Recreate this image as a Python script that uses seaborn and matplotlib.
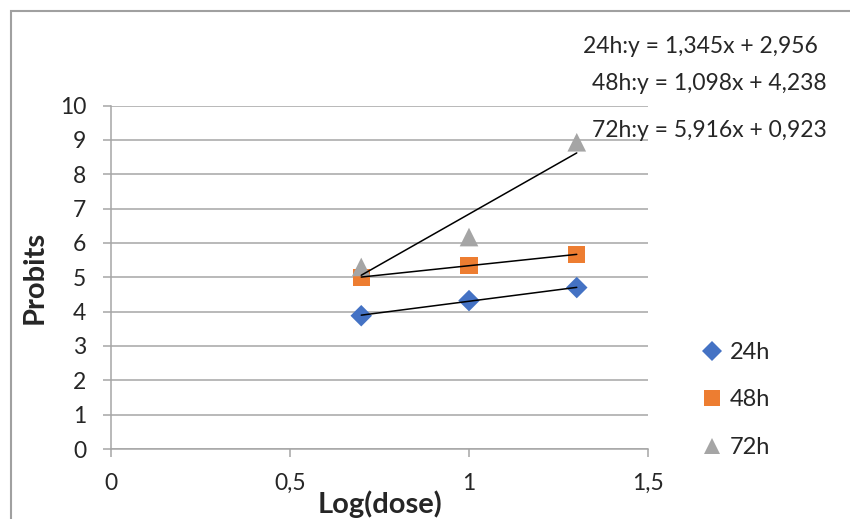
import matplotlib
matplotlib.use("Agg")
import matplotlib.pyplot as plt
import seaborn as sns
import pandas as pd
import numpy as np
from matplotlib.patches import Rectangle
from matplotlib.lines import Line2D

# ---- data ----
log_dose = [0.699, 1.0, 1.301]
probit_24h = [3.88, 4.32, 4.70]
probit_48h = [5.00, 5.33, 5.67]
probit_72h = [5.30, 6.17, 8.93]
series = ["24h", "48h", "72h"]
slopes = [1.345, 1.098, 5.916]
intercepts = [2.956, 4.238, 0.923]
equations = ["24h:y = 1,345x + 2,956", "48h:y = 1,098x + 4,238", "72h:y = 5,916x + 0,923"]
x_ticks = [0, 0.5, 1, 1.5]
x_ticklabels = ["0", "0,5", "1", "1,5"]
y_ticks = list(range(0, 11))

colors = {"24h": "#4472C4", "48h": "#ED7D31", "72h": "#A5A5A5"}
markers = {"24h": "D", "48h": "s", "72h": "^"}
sizes = {"24h": 120, "48h": 150, "72h": 180}
leg_sizes = {"24h": 10, "48h": 11.5, "72h": 12}

df = pd.DataFrame({
    "x": log_dose * 3,
    "y": probit_24h + probit_48h + probit_72h,
    "s": [s for s in series for _ in log_dose],
})

sns.set_style("white")
plt.rcParams["font.family"] = ["Lato", "DejaVu Sans"]

W, H = 850, 519
fig = plt.figure(figsize=(W / 100, H / 100), dpi=100)
L, R, T, B = 111, 648, 105.5, 449
ax = fig.add_axes([L / W, 1 - B / H, (R - L) / W, (B - T) / H])

# border of chart area
fig.patches.append(Rectangle((11 / W, -0.02), 1.2, 1 - 10.5 / H + 0.02, transform=fig.transFigure,
                             fill=False, edgecolor="#A0A0A0", linewidth=1.5))

for s in series:
    sub = df[df.s == s]
    sns.scatterplot(data=sub, x="x", y="y", ax=ax, color=colors[s], marker=markers[s],
                    s=sizes[s], edgecolor="none", linewidth=0, zorder=3, legend=False)

# trend lines
xs = np.array([log_dose[0], log_dose[-1]])
for m, b in zip(slopes, intercepts):
    ax.plot(xs, m * xs + b, color="black", linewidth=1.1, zorder=4)

ax.set_xlim(0, 1.5)
ax.set_ylim(0, 10)
ax.set_xticks(x_ticks)
ax.set_xticklabels(x_ticklabels)
ax.set_yticks(y_ticks)
ax.yaxis.grid(True, color="#A6A6A6", linewidth=1.1)
ax.xaxis.grid(False)
for side in ["top", "right"]:
    ax.spines[side].set_visible(False)
for side in ["left", "bottom"]:
    ax.spines[side].set_color("#A6A6A6")
    ax.spines[side].set_linewidth(1.1)
ax.tick_params(axis="x", direction="out", length=6, width=1.1, color="#A6A6A6",
               labelsize=16.5, pad=11, bottom=True)
ax.tick_params(axis="y", direction="out", length=6, width=1.1, color="#A6A6A6",
               labelsize=16.5, pad=12, left=True)
ax.set_xlabel("")
ax.set_ylabel("")

fig.text(380 / W, 1 - 513 / H, "Log(dose)", ha="center", va="baseline",
         fontsize=21, fontweight="bold")
fig.text(35 / W, 1 - 277 / H, "Probits", ha="center", va="center", rotation=90,
         fontsize=21, fontweight="bold")

# equations
eq_pos = [(818, 53), (827, 90), (827, 137)]
for txt, (px, py) in zip(equations, eq_pos):
    fig.text(px / W, 1 - py / H, txt, ha="right", va="baseline", fontsize=16.5)

handles = [Line2D([], [], linestyle="none", marker=markers[s], color=colors[s],
                  markersize=leg_sizes[s], markeredgewidth=0) for s in series]
fig.legend(handles, series, loc="center left", bbox_to_anchor=(694 / W, 1 - 400 / H),
           frameon=False, fontsize=17, handletextpad=0.0, labelspacing=1.12,
           handlelength=1.5, borderpad=0, borderaxespad=0)

fig.savefig("out.png", dpi=100)
